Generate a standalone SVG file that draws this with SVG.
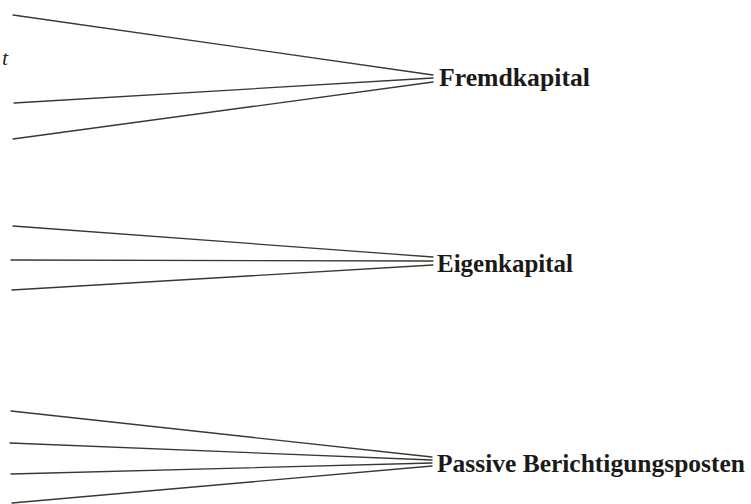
<svg xmlns="http://www.w3.org/2000/svg" width="751" height="504" viewBox="0 0 751 504">
<style>
.ln{stroke:#3b3630;stroke-width:1.3;fill:none;stroke-linecap:round}
.lbl{font-family:"Liberation Serif","Times New Roman",serif;font-weight:bold;font-size:26px;fill:#1c1a18}
.it{font-family:"Liberation Serif","Times New Roman",serif;font-style:italic;font-size:22px;fill:#2a2622}
</style>
<rect width="751" height="504" fill="#ffffff"/>
<g id="connectors">
<line class="ln" x1="13" y1="15" x2="433" y2="75"/>
<line class="ln" x1="14" y1="103" x2="433" y2="78"/>
<line class="ln" x1="13" y1="139" x2="433" y2="82"/>
<line class="ln" x1="13" y1="226" x2="433" y2="257"/>
<line class="ln" x1="11" y1="260" x2="433" y2="261"/>
<line class="ln" x1="12" y1="290" x2="433" y2="265"/>
<line class="ln" x1="11" y1="411" x2="432" y2="457"/>
<line class="ln" x1="10" y1="443" x2="432" y2="460"/>
<line class="ln" x1="11" y1="474" x2="432" y2="463"/>
<line class="ln" x1="12" y1="503" x2="432" y2="466"/>
</g>
<g id="t-label"><text class="it" x="2" y="65">t</text></g>
<g id="fremdkapital"><text class="lbl" x="439" y="86" textLength="151" lengthAdjust="spacingAndGlyphs">Fremdkapital</text></g>
<g id="eigenkapital"><text class="lbl" x="437" y="272" textLength="136" lengthAdjust="spacingAndGlyphs">Eigenkapital</text></g>
<g id="passive"><text class="lbl" x="437" y="472" textLength="308" lengthAdjust="spacingAndGlyphs">Passive Berichtigungsposten</text></g>
</svg>
